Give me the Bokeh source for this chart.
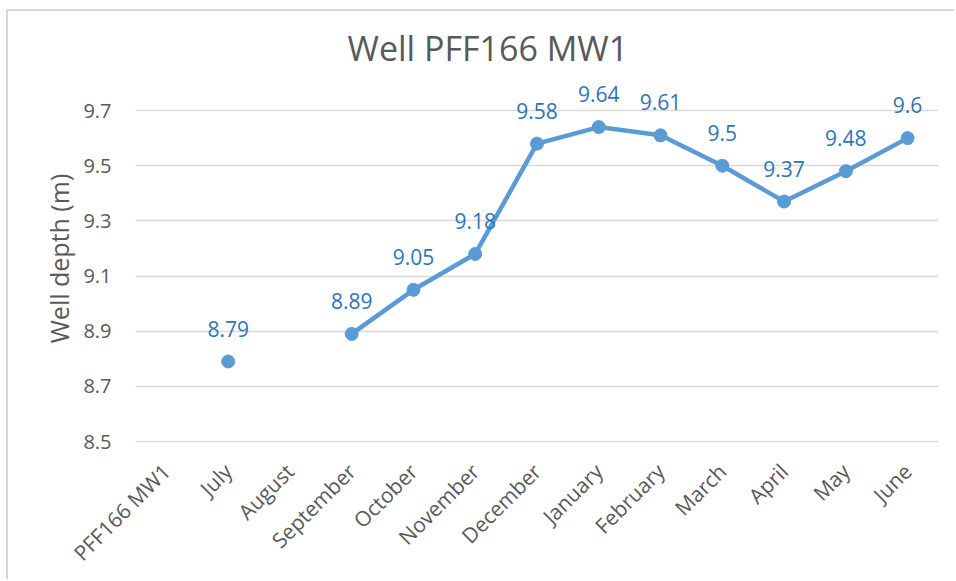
import math
from bokeh.plotting import figure
from bokeh.models import ColumnDataSource, FixedTicker, Range1d, FactorRange
from bokeh.core.properties import value
from bokeh.embed import file_html
from bokeh.resources import INLINE

# ---- data ----
categories = ["PFF166 MW1", "July", "August", "September", "October", "November",
              "December", "January", "February", "March", "April", "May", "June"]
depths = [float("nan"), 8.79, float("nan"), 8.89, 9.05, 9.18, 9.58, 9.64, 9.61,
          9.5, 9.37, 9.48, 9.6]
y_ticks = [8.5, 8.7, 8.9, 9.1, 9.3, 9.5, 9.7]
title_text = "Well PFF166 MW1"
y_label = "Well depth (m)"

FONT = "Open Sans"
GREY = "#595959"
LINE = "#5B9BD5"
LABEL = "#2E75B6"

p = figure(
    x_range=FactorRange(*categories, range_padding=0),
    y_range=Range1d(8.5, 9.827),
    width=948, height=570,
    output_backend="svg", toolbar_location=None,
    min_border_left=127, min_border_right=18,
    min_border_top=64, min_border_bottom=140,
)
p.styles = {"margin-left": "6px", "margin-top": "9px",
            "border-top": "2px solid #d9d9d9", "border-left": "2px solid #d9d9d9"}

p.title.text = title_text
p.title.align = "left"
p.title.offset = 212
p.title.text_font = FONT
p.title.text_font_size = "34px"
p.title.text_font_style = "normal"
p.title.text_color = GREY
p.title.standoff = 9

p.outline_line_color = None
p.xgrid.grid_line_color = None
p.ygrid.grid_line_color = "#d9d9d9"
p.ygrid.grid_line_width = 1.5
p.ygrid.ticker = FixedTicker(ticks=y_ticks)

p.yaxis.ticker = FixedTicker(ticks=y_ticks)
p.yaxis.axis_line_color = None
p.yaxis.major_tick_line_color = None
p.yaxis.minor_tick_line_color = None
p.yaxis.major_label_standoff = 18
p.yaxis.major_label_text_font = FONT
p.yaxis.major_label_text_font_size = "20px"
p.yaxis.major_label_text_color = GREY
p.yaxis.axis_label = y_label
p.yaxis.axis_label_text_font = FONT
p.yaxis.axis_label_text_font_size = "25px"
p.yaxis.axis_label_text_font_style = "normal"
p.yaxis.axis_label_text_color = GREY
p.yaxis.axis_label_standoff = 4

p.xaxis.axis_line_color = "#d9d9d9"
p.xaxis.axis_line_width = 1.5
p.xaxis.major_tick_line_color = None
p.xaxis.minor_tick_line_color = None
p.xaxis.major_label_orientation = math.pi / 4
p.xaxis.major_label_standoff = 20
p.xaxis.major_label_text_font = FONT
p.xaxis.major_label_text_font_size = "21px"
p.xaxis.major_label_text_color = GREY

src = ColumnDataSource(dict(x=categories, y=depths))
p.line("x", "y", source=src, line_color=LINE, line_width=4.5)
p.scatter("x", "y", source=src, size=13, fill_color=LINE, line_color=LINE)

lab_x = [c for c, v in zip(categories, depths) if not math.isnan(v)]
lab_y = [v for v in depths if not math.isnan(v)]
lab_t = [f"{v:g}" for v in lab_y]
lsrc = ColumnDataSource(dict(x=lab_x, y=lab_y, t=lab_t))
p.text("x", "y", text="t", source=lsrc, text_align="center", text_baseline="middle",
       y_offset=-33, text_font=value(FONT), text_font_size="21px", text_color=LABEL)

open("out.html", "w").write(file_html(p, INLINE))
